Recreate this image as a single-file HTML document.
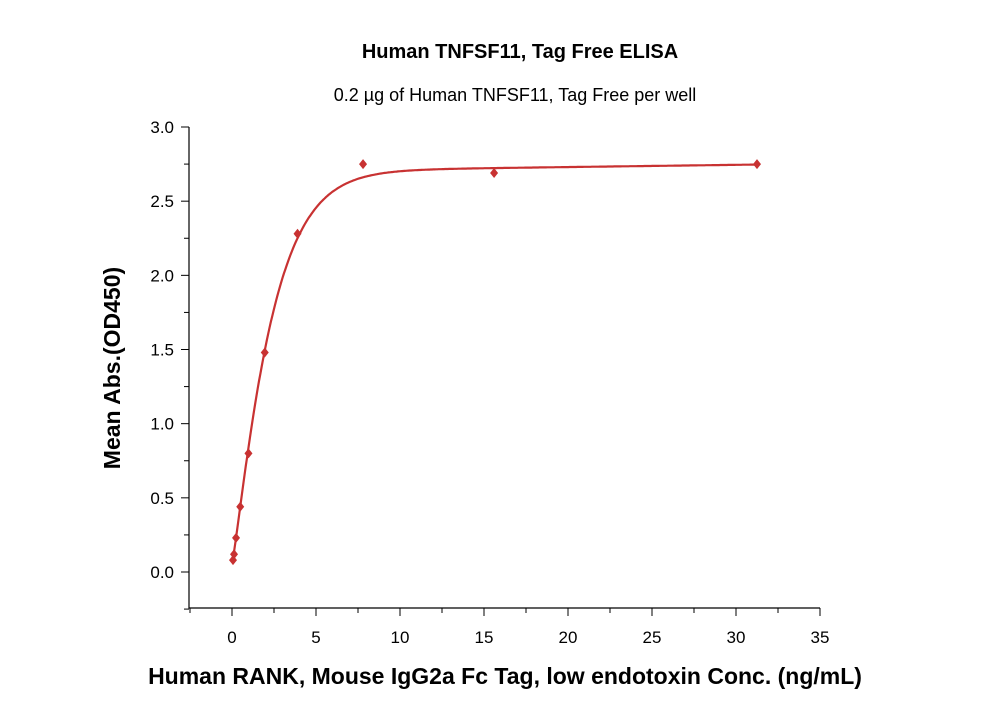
<!DOCTYPE html>
<html><head><meta charset="utf-8"><style>
body{margin:0;background:#fff;}
svg{display:block;font-family:"Liberation Sans",sans-serif;}
</style></head><body>
<svg id="chart" width="1000" height="714">
<text x="520" y="58" text-anchor="middle" font-size="20" font-weight="bold">Human TNFSF11, Tag Free ELISA</text>
<text x="515" y="101" text-anchor="middle" font-size="18">0.2 µg of Human TNFSF11, Tag Free per well</text>
<text x="505" y="684" text-anchor="middle" font-size="23" font-weight="bold">Human RANK, Mouse IgG2a Fc Tag, low endotoxin Conc. (ng/mL)</text>
<text transform="translate(120,368) rotate(-90)" text-anchor="middle" font-size="23" font-weight="bold">Mean Abs.(OD450)</text>
<g id="axes"></g><g id="marks"></g>
</svg>
<script>
const xConc = [0.06, 0.12, 0.24, 0.49, 0.98, 1.95, 3.9, 7.8, 15.6, 31.25];
const yOD = [0.08, 0.12, 0.23, 0.44, 0.80, 1.48, 2.28, 2.75, 2.69, 2.75];
const xTicks = [0, 5, 10, 15, 20, 25, 30, 35];
const yTicks = [0.0, 0.5, 1.0, 1.5, 2.0, 2.5, 3.0];
const NS = "http://www.w3.org/2000/svg";
const X = v => 232 + (v - 0) * 16.8;
const Y = v => 572 - v * 148.33;
const axes = document.getElementById('axes'), marks = document.getElementById('marks');
function mk(tag, attrs, parent){const e=document.createElementNS(NS,tag);for(const k in attrs)e.setAttribute(k,attrs[k]);parent.appendChild(e);return e;}
const ax = mk('path',{d:`M189 127 V608 H820`,stroke:'#000','stroke-width':1.2,fill:'none'},axes);


xTicks.forEach(t=>{
  const l=mk('line',{x1:X(t),x2:X(t),y1:608,y2:616,stroke:'#000'},axes);
  
  
  const m=mk('line',{x1:X(t-2.5),x2:X(t-2.5),y1:608,y2:613,stroke:'#000'},axes);
  
  
  const tx=mk('text',{x:X(t),y:643,'text-anchor':'middle','font-size':17},axes);
  tx.textContent=t;
  
  
});
yTicks.forEach(t=>{
  const l=mk('line',{x1:181,x2:189,y1:Y(t),y2:Y(t),stroke:'#000'},axes);
  
  
  const m=mk('line',{x1:184,x2:189,y1:Y(t-0.25),y2:Y(t-0.25),stroke:'#000'},axes);
  
  
  const tx=mk('text',{x:174,y:Y(t)+6,'text-anchor':'end','font-size':17},axes);
  tx.textContent=t.toFixed(1);
  
  
});
// fitted curve
let d='';
for(let i=0;i<=400;i++){const x=0.05+i*(31.25-0.05)/400;const y=0.06+2.64*(1-Math.exp(-Math.pow(0.415*x,1.17)))+0.0015*x;d+=(i?'L':'M')+X(x).toFixed(1)+' '+Y(y).toFixed(1);}
const c=mk('path',{d:d,stroke:'#c83232','stroke-width':2.2,fill:'none'},marks);


xConc.forEach((x,i)=>{
  const px=X(x),py=Y(yOD[i]);
  const p=mk('path',{d:`M${px} ${py-5}L${px+4} ${py}L${px} ${py+5}L${px-4} ${py}Z`,fill:'#c83232'},marks);
  
  
});
</script>
</body></html>
